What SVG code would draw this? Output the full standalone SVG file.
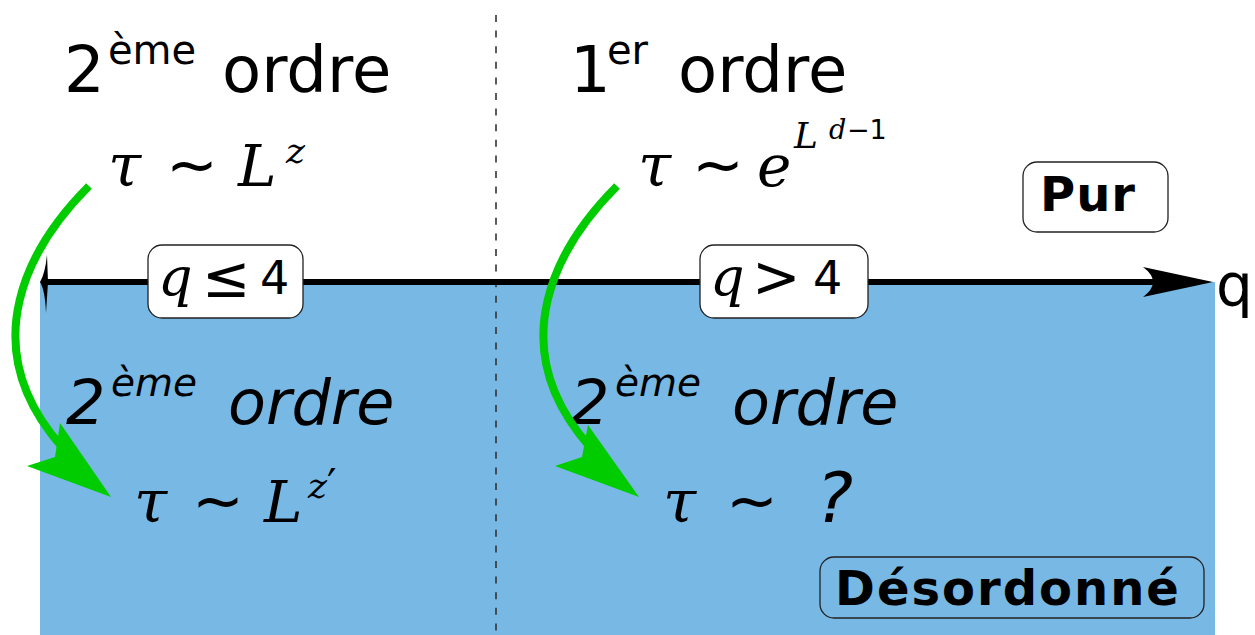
<svg xmlns="http://www.w3.org/2000/svg" width="1255" height="635" viewBox="0 0 1255 635">
<style>
.sans{font-family:"DejaVu Sans","Liberation Sans",sans-serif;fill:#000}
.obl{font-family:"DejaVu Sans","Liberation Sans",sans-serif;font-style:oblique;fill:#000}
.mi{font-family:"DejaVu Serif","Liberation Serif",serif;font-style:italic;fill:#000}
.op{font-family:"DejaVu Sans",sans-serif;fill:#000}
.box{fill:#fff;stroke:#222;stroke-width:1.3}
.boxb{fill:none;stroke:#222;stroke-width:1.3}
.bold{font-family:"DejaVu Sans","Liberation Sans",sans-serif;font-weight:bold;fill:#000}
.green{fill:none;stroke:#00cc00;stroke-width:8}
.gh{fill:#00cc00}
</style>
<rect x="0" y="0" width="1255" height="635" fill="#fff"/>
<rect id="disorder-region" x="40" y="282" width="1175" height="353" fill="#78b8e4"/>
<line id="divider" x1="496" y1="15" x2="496" y2="635" stroke="#333" stroke-width="1.6" stroke-dasharray="7 8.6"/>

<g id="axis">
<line x1="44" y1="282" x2="1160" y2="282" stroke="#000" stroke-width="6"/>
<path d="M1213,282 L1143,267 Q1163,282 1143,297 Z" fill="#000"/>
<path d="M47,255 Q45,274 40,282 Q45,290 46,313 L48,282 Z" fill="#000"/>
<text class="sans" x="1216" y="306" font-size="58">q</text>
</g>

<g id="top-left">
<text class="sans" x="64" y="92" font-size="64">2</text>
<text class="sans" x="108" y="64" font-size="40">ème</text>
<text class="sans" x="222" y="92" font-size="64">ordre</text>
<g id="formula-tl">
<text class="mi" x="108" y="186" font-size="60">τ</text>
<text class="op" x="166" y="186" font-size="62">∼</text>
<text class="mi" x="238" y="186" font-size="58">L</text>
<text class="mi" x="286" y="163" font-size="36">z</text>
</g>
</g>

<g id="top-right">
<text class="sans" x="570" y="92" font-size="64">1</text>
<text class="sans" x="607" y="64" font-size="40">er</text>
<text class="sans" x="678" y="92" font-size="64">ordre</text>
<g id="formula-tr">
<text class="mi" x="638" y="186" font-size="60">τ</text>
<text class="op" x="692" y="186" font-size="62">∼</text>
<text class="mi" x="757" y="186" font-size="58">e</text>
<text class="mi" x="794" y="148" font-size="36">L</text>
<text class="mi" x="829" y="139" font-size="27">d</text>
<text class="op" x="847" y="139" font-size="27">−1</text>
</g>
</g>

<g id="bottom-left">
<text class="obl" x="66" y="424" font-size="62">2</text>
<text class="obl" x="111" y="396" font-size="39">ème</text>
<text class="obl" x="228" y="424" font-size="62">ordre</text>
<g id="formula-bl">
<text class="mi" x="134" y="522" font-size="60">τ</text>
<text class="op" x="192" y="522" font-size="62">∼</text>
<text class="mi" x="264" y="522" font-size="58">L</text>
<text class="mi" x="308" y="498" font-size="36">z</text>
<text class="op" x="327" y="499" font-size="42">′</text>
</g>
</g>

<g id="bottom-right">
<text class="obl" x="570" y="424" font-size="62">2</text>
<text class="obl" x="615" y="396" font-size="39">ème</text>
<text class="obl" x="732" y="424" font-size="62">ordre</text>
<g id="formula-br">
<text class="mi" x="663" y="522" font-size="60">τ</text>
<text class="op" x="726" y="522" font-size="62">∼</text>
<text class="obl" x="816" y="522" font-size="70">?</text>
</g>
</g>

<g id="label-q-le-4">
<rect class="box" x="148" y="245" width="155" height="73" rx="14"/>
<text class="mi" x="158" y="296" font-size="54">q</text>
<text class="op" x="202" y="297" font-size="58">≤</text>
<text class="sans" x="260" y="294" font-size="46">4</text>
</g>

<g id="label-q-gt-4">
<rect class="box" x="700" y="245" width="168" height="73" rx="14"/>
<text class="mi" x="710" y="296" font-size="54">q</text>
<text class="op" x="752" y="297" font-size="58">&gt;</text>
<text class="sans" x="813" y="294" font-size="46">4</text>
</g>

<g id="label-pur">
<rect class="box" x="1023" y="162" width="145" height="70" rx="14"/>
<text class="bold" x="1088" y="211" font-size="48" text-anchor="middle" letter-spacing="1">Pur</text>
</g>

<g id="label-desordonne">
<rect class="boxb" x="820" y="557" width="384" height="61" rx="14"/>
<text class="bold" x="1008" y="605" font-size="48" text-anchor="middle" letter-spacing="2">Désordonné</text>
</g>

<g id="connectors">
<path class="green" d="M89,186 C30,245 -28,345 62,447"/>
<path class="gh" d="M60,423 L111,497 L27,466 L55,457 Z"/>
<path class="green" d="M617,186 C558,245 500,345 590,447"/>
<path class="gh" d="M588,425 L639,497 L555,466 L582,457 Z"/>
</g>
</svg>
